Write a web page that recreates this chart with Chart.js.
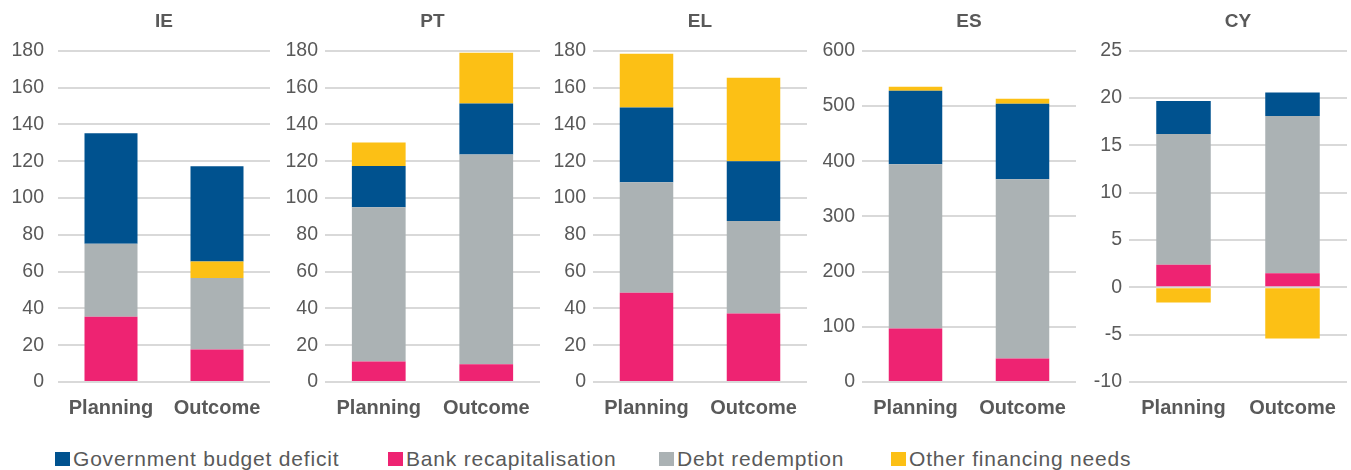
<!DOCTYPE html>
<html>
<head>
<meta charset="utf-8">
<script src="https://cdn.jsdelivr.net/npm/chart.js@4.4.1/dist/chart.umd.min.js"></script>
<style>
  body { margin: 0; background: #fff; font-family: "Liberation Sans", Arial, sans-serif; }
  #wrap { position: relative; width: 1351px; height: 470px; overflow: hidden; }
  .panel { position: absolute; top: 0; height: 430px; }
  .legend-item { position: absolute; top: 447px; display: flex; align-items: center; color: #595959; font-size: 21px; letter-spacing: 0.8px; white-space: nowrap; }
  .legend-item span.box { display: inline-block; width: 15px; height: 14px; margin-right: 3px; }
</style>
</head>
<body>
<div id="wrap"></div>
<script>
// Categorias e valores
const countries = ['IE', 'PT', 'EL', 'ES', 'CY'];
const phases = ['Planning', 'Outcome'];

// [Planning, Outcome] por país
const budgetDeficit  = [[60.0, 51.8], [22.4, 27.6], [40.6, 32.5], [133.4, 137.0], [3.5, 2.5]];
const bankRecap      = [[35.4, 17.6], [11.2, 9.7],  [48.5, 37.2], [96.8, 42.7],   [2.4, 1.5]];
const debtRedemption = [[39.8, 38.9], [83.8, 114.0], [60.1, 50.3], [297.6, 324.6], [13.8, 16.6]];
const otherNeeds     = [[0, 9.0],     [12.8, 27.7], [29.2, 45.4], [7.2, 9.0],     [-1.6, -5.4]];

// Eixos y
const yMin  = [0, 0, 0, 0, -10];
const yMax  = [180, 180, 180, 600, 25];
const yStep = [20, 20, 20, 100, 5];

const seriesLabels = ['Government budget deficit', 'Bank recapitalisation', 'Debt redemption', 'Other financing needs'];
const seriesColors = ['#00528f', '#ee2372', '#abb2b4', '#fcc015'];

// Layout dos painéis
const panelLeft  = [0, 270, 540, 810, 1080];
const panelWidth = [270, 270, 270, 270, 271];
const axisWidth  = [58, 55, 53, 52, 49];
const tickPad    = [14, 7, 7, 7, 7];
const rightPad   = [0, 0, 3, 4, 4];

const textColor = '#595959';
const fontFamily = '"Liberation Sans", Arial, sans-serif';

const wrap = document.getElementById('wrap');

countries.forEach((country, i) => {
  const div = document.createElement('div');
  div.className = 'panel';
  div.style.left = panelLeft[i] + 'px';
  div.style.width = panelWidth[i] + 'px';
  const canvas = document.createElement('canvas');
  div.appendChild(canvas);
  wrap.appendChild(div);

  const values = [budgetDeficit[i], bankRecap[i], debtRedemption[i], otherNeeds[i]];
  // IE empilha "Other" abaixo do défice; os restantes acima
  const stackOrder = country === 'IE' ? [1, 2, 3, 0] : [1, 2, 0, 3];

  const datasets = stackOrder.map(s => ({
    label: seriesLabels[s],
    data: values[s],
    backgroundColor: seriesColors[s],
    borderWidth: 0,
    categoryPercentage: 0.5,
    barPercentage: 1.0
  }));

  new Chart(canvas.getContext('2d'), {
    type: 'bar',
    data: { labels: phases, datasets: datasets },
    options: {
      responsive: true,
      maintainAspectRatio: false,
      animation: false,
      layout: { padding: { top: 0, right: rightPad[i], bottom: 0, left: 0 } },
      plugins: {
        legend: { display: false },
        tooltip: { enabled: false },
        title: {
          display: true,
          text: country,
          fullSize: false,
          color: textColor,
          font: { family: fontFamily, size: 19, weight: 'bold' },
          padding: { top: 10, bottom: 18 }
        }
      },
      scales: {
        x: {
          stacked: true,
          grid: { display: false },
          border: { display: false },
          ticks: {
            color: textColor,
            padding: 6,
            font: { family: fontFamily, size: 20, weight: 'bold' }
          },
          afterFit(scale) { scale.height = 48; }
        },
        y: {
          stacked: true,
          min: yMin[i],
          max: yMax[i],
          ticks: {
            stepSize: yStep[i],
            color: textColor,
            padding: tickPad[i],
            font: { family: fontFamily, size: 19.5 }
          },
          grid: { color: '#d9d9d9', lineWidth: 2, drawTicks: false },
          border: { display: false },
          afterFit(scale) { scale.width = axisWidth[i]; }
        }
      }
    }
  });
});

// Legenda
const legendLeft = [55, 388, 659, 891];
seriesLabels.forEach((label, s) => {
  const item = document.createElement('div');
  item.className = 'legend-item';
  item.style.left = legendLeft[s] + 'px';
  const box = document.createElement('span');
  box.className = 'box';
  box.style.background = seriesColors[s];
  item.appendChild(box);
  item.appendChild(document.createTextNode(label));
  wrap.appendChild(item);
});
</script>
</body>
</html>
